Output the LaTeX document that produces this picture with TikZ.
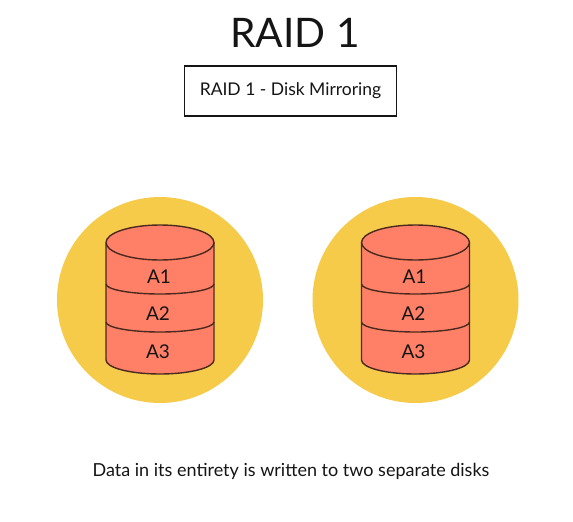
\documentclass[tikz,border=0pt]{standalone}
\usepackage{fontspec}
\setmainfont{Lato}
\definecolor{discbg}{HTML}{F6CB4A}
\definecolor{diskfill}{HTML}{FF8066}
\definecolor{diskline}{HTML}{4A2A20}
\definecolor{inkc}{HTML}{151515}
\tikzset{
  x=1pt,y=-1pt,
  disc/.style={circle,fill=discbg,draw=none,minimum size=206pt,inner sep=0pt},
  disklabel/.style={font=\fontsize{19}{21}\selectfont,text=inkc,inner sep=0pt,anchor=center},
  diskedge/.style={draw=diskline,line width=1.4pt},
}
\newcommand{\raiddisk}[2]{%
  \begin{scope}[shift={(#1,0)}]
    \node[disc] (#2disc) at (0,300) {};
    \path[fill=diskfill,diskedge] (-54,242.5) -- (-54,360) arc[start angle=180,end angle=360,x radius=54,y radius=-14] -- (54,242.5) arc[start angle=0,end angle=180,x radius=54,y radius=-17.5] -- cycle;
    \draw[diskedge] (-54,242.5) arc[start angle=180,end angle=360,x radius=54,y radius=-17.5];
    \draw[diskedge] (-54,284) arc[start angle=180,end angle=360,x radius=54,y radius=-10];
    \draw[diskedge] (-54,322) arc[start angle=180,end angle=360,x radius=54,y radius=-10];
    \node[disklabel] (#2a) at (-1,277) {A1};
    \node[disklabel] (#2b) at (-2,313.5) {A2};
    \node[disklabel] (#2c) at (-2,352) {A3};
  \end{scope}}
\begin{document}
\begin{tikzpicture}
\useasboundingbox (0,0) rectangle (573,522);
\fill[white] (0,0) rectangle (573,522);
\node[font=\fontsize{40.7}{46}\selectfont,text=inkc,inner sep=0pt] (title) at (295,33) {RAID 1};
\node[draw=inkc,line width=1.5pt,minimum width=212pt,minimum height=50pt,inner sep=0pt,font=\fontsize{17.5}{20}\selectfont,text=inkc] (subtitle) at (290.5,91) {RAID 1 - Disk Mirroring};
\raiddisk{160}{l}
\raiddisk{415.5}{r}
\node[font=\fontsize{18}{20}\selectfont,text=inkc,inner sep=0pt] (caption) at (291,471) {Data in its entirety is written to two separate disks};
\end{tikzpicture}
\end{document}
